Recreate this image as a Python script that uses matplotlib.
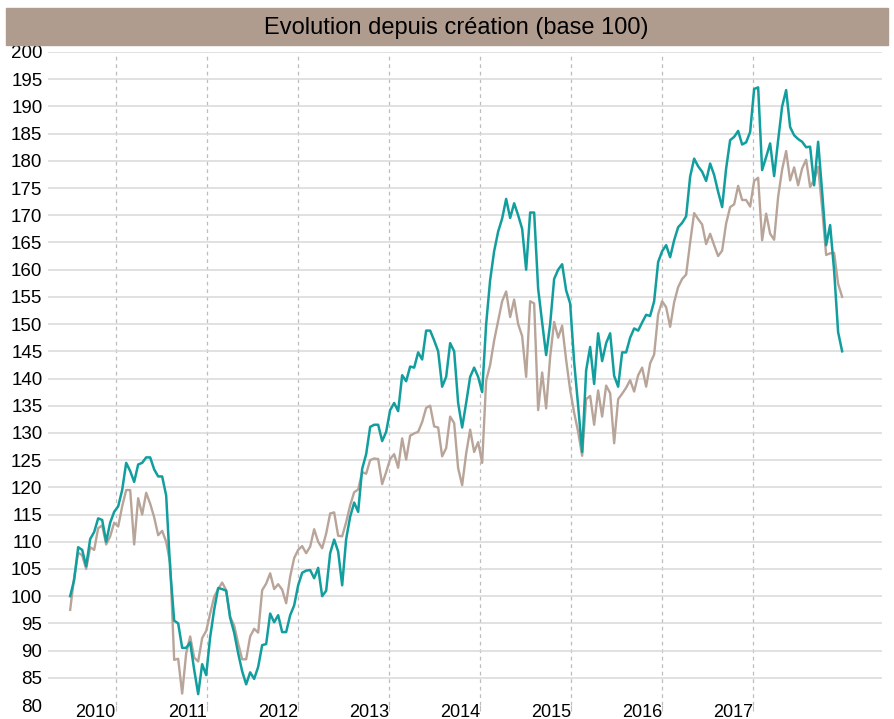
import matplotlib
matplotlib.use("Agg")
import matplotlib.pyplot as plt
from matplotlib.patches import Rectangle
import pandas as pd

plt.rcParams["font.family"] = ["Liberation Sans", "DejaVu Sans"]

# base 100 at creation, one reading roughly every two weeks
start_date, end_date = "2010-07-01", "2018-12-24"
fund = [
    100.0, 103.0, 109.0, 108.5, 105.5, 110.5, 111.8, 114.3, 114.0, 110.0,
    113.5, 115.5, 116.5, 119.5, 124.5, 123.0, 121.0, 124.2, 124.5, 125.5,
    125.5, 123.3, 122.0, 122.0, 118.5, 105.0, 95.5, 95.0, 90.5, 90.5,
    91.5, 86.5, 82.0, 87.5, 85.5, 92.5, 97.5, 101.5, 101.3, 101.0,
    96.0, 93.3, 89.5, 86.2, 83.8, 86.0, 84.8, 87.0, 91.0, 91.2,
    96.8, 95.2, 96.5, 93.4, 93.4, 96.5, 98.3, 102.0, 104.3, 104.7,
    104.8, 103.3, 105.2, 100.0, 101.0, 107.9, 110.4, 108.2, 102.0, 110.5,
    114.6, 117.2, 115.5, 123.4, 126.1, 131.1, 131.5, 131.5, 128.5, 130.2,
    134.2, 135.5, 134.0, 140.6, 139.5, 142.2, 142.0, 144.8, 143.5, 148.8,
    148.8, 147.0, 145.0, 138.5, 140.3, 146.5, 145.0, 135.5, 131.0, 135.5,
    140.3, 142.0, 140.3, 137.5, 150.0, 158.1, 163.4, 167.0, 169.4, 173.0,
    169.5, 172.2, 170.0, 167.5, 160.0, 170.5, 170.5, 156.5, 150.3, 144.3,
    150.0, 158.3, 160.0, 161.0, 156.2, 153.8, 143.0, 135.0, 126.5, 141.5,
    145.8, 139.0, 148.3, 143.2, 146.5, 148.3, 140.5, 138.5, 144.8, 144.8,
    147.5, 149.2, 148.8, 150.3, 151.7, 151.5, 154.2, 161.4, 163.4, 164.5,
    162.3, 165.4, 167.8, 168.6, 169.8, 177.1, 180.4, 179.0, 178.0, 176.3,
    179.5, 177.4, 174.3, 171.5, 178.6, 183.8, 184.4, 185.5, 183.0, 183.4,
    185.3, 193.2, 193.5, 178.3, 180.7, 183.2, 177.2, 183.8, 190.0, 193.0,
    186.2, 184.7, 184.0, 183.5, 182.5, 182.6, 175.5, 183.5, 174.3, 164.5,
    168.2, 159.8, 148.5, 145.0,
]
benchmark = [
    97.5, 103.5, 108.0, 107.5, 105.0, 109.0, 108.5, 112.5, 113.0, 109.5,
    111.0, 113.5, 112.8, 116.5, 119.5, 119.5, 109.5, 118.0, 115.0, 119.0,
    117.0, 114.5, 111.2, 112.0, 110.0, 106.0, 88.3, 88.5, 82.1, 89.5,
    92.6, 88.7, 88.0, 92.3, 93.6, 96.8, 99.9, 101.3, 102.5, 101.1,
    96.2, 94.6, 91.3, 88.4, 88.4, 92.6, 94.0, 93.3, 101.1, 102.3,
    104.2, 101.3, 102.2, 101.2, 98.7, 103.6, 107.0, 108.5, 109.2, 107.9,
    109.1, 112.3, 110.0, 108.8, 111.5, 115.2, 115.4, 111.1, 111.0, 113.6,
    116.7, 119.1, 119.6, 122.8, 122.5, 125.0, 125.3, 125.2, 120.6, 122.8,
    125.2, 126.1, 123.6, 129.0, 125.1, 129.5, 129.9, 130.2, 132.0, 134.6,
    135.0, 131.2, 131.0, 125.7, 127.2, 133.0, 131.8, 123.5, 120.4, 126.2,
    130.6, 126.5, 128.3, 124.5, 139.6, 142.5, 147.0, 150.6, 154.2, 156.0,
    151.3, 154.5, 150.0, 147.8, 140.3, 154.2, 153.8, 134.2, 141.1, 134.5,
    144.0, 150.4, 147.5, 149.7, 143.4, 137.9, 133.7, 130.2, 125.8, 136.2,
    136.8, 131.5, 137.8, 133.0, 138.7, 137.3, 128.1, 136.2, 137.2, 138.3,
    139.7, 137.6, 140.6, 142.0, 138.5, 142.8, 144.4, 151.8, 154.2, 153.1,
    149.5, 154.0, 156.8, 158.3, 159.1, 165.0, 170.4, 169.3, 168.3, 164.7,
    166.6, 164.5, 162.5, 163.5, 168.5, 171.5, 172.0, 175.4, 172.8, 172.8,
    171.6, 176.3, 176.9, 165.4, 170.3, 166.6, 165.5, 173.4, 178.4, 181.8,
    176.4, 178.8, 175.5, 178.6, 180.2, 175.2, 176.5, 178.9, 171.3, 162.7,
    163.0, 163.1, 157.4, 155.0,
]
year_labels = [2010, 2011, 2012, 2013, 2014, 2015, 2016, 2017]
y_ticks = list(range(80, 201, 5))
title = "Evolution depuis création (base 100)"

teal = "#129e9e"
taupe = "#b8a498"
banner = "#b09b8f"

dates = pd.date_range(start_date, end_date, periods=len(fund))

fig = plt.figure(figsize=(8.94, 7.19), dpi=100)
ax = fig.add_axes([48 / 894, 14 / 719, 834 / 894, 653 / 719])

ax.plot(dates, benchmark, color=taupe, lw=1.7, zorder=3)
ax.plot(dates, fund, color=teal, lw=1.8, zorder=4)

# year labels sit just left of the year-end dashed line
year_ends = [pd.Timestamp(f"{y}-12-31") for y in year_labels]
ax.set_xticks(year_ends)
ax.set_xticklabels([str(y) for y in year_labels], ha="right")
ax.set_xlim(pd.Timestamp("2010-04-03"), pd.Timestamp("2019-06-02"))
ax.set_ylim(80, 200)
ax.set_yticks(y_ticks)

ax.grid(axis="y", color="#d9d9d9", lw=1.1, zorder=1)
ax.grid(axis="x", color="#bdbdbd", lw=0.9, ls=(0, (3, 3)), zorder=1)
ax.get_ygridlines()[0].set_visible(False)

for s in ax.spines.values():
    s.set_visible(False)
ax.tick_params(axis="y", length=0, pad=4, labelsize=13.5)
ax.tick_params(axis="x", length=4, color="#bdbdbd", pad=-4.5, labelsize=13)

fig.patches.append(Rectangle((6 / 894, 1 - 45 / 719), 882 / 894, 37 / 719,
                             transform=fig.transFigure, color=banner, zorder=0))
fig.text(456 / 894, 1 - 28 / 719, title, ha="center", va="center", fontsize=17)

fig.savefig("out.png", dpi=100)
